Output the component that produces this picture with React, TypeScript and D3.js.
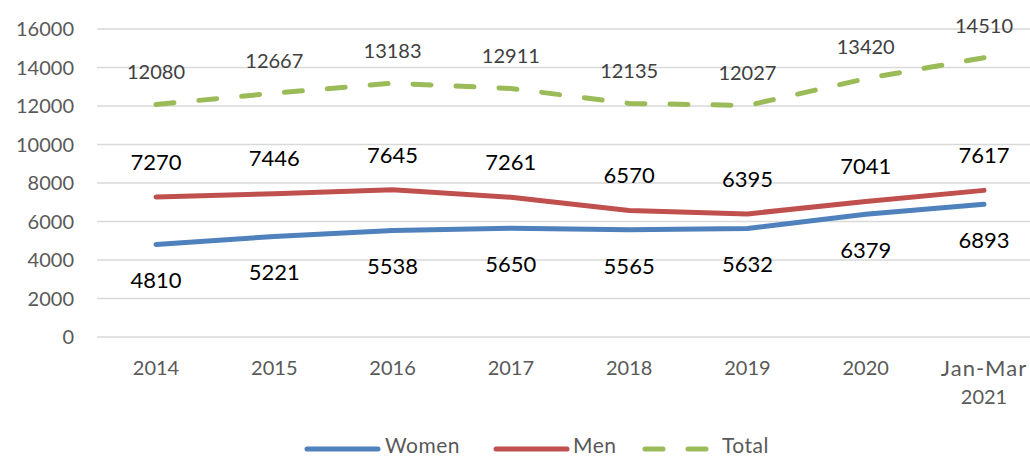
import React from "react";
import * as d3 from "d3";

const categories = ["2014", "2015", "2016", "2017", "2018", "2019", "2020", "Jan-Mar\n2021"];
const women = [4810, 5221, 5538, 5650, 5565, 5632, 6379, 6893];
const men = [7270, 7446, 7645, 7261, 6570, 6395, 7041, 7617];
const total = [12080, 12667, 13183, 12911, 12135, 12027, 13420, 14510];
const yTicks = [0, 2000, 4000, 6000, 8000, 10000, 12000, 14000, 16000];

const W = 1030, H = 459;
const FONT = "Lato, 'Open Sans', sans-serif";

export default function App() {
  const x = d3.scalePoint<string>().domain(categories).range([156, 984]);
  const y = d3.scaleLinear().domain([0, 16000]).range([337, 29]);
  const line = d3.line<number>().x((_, i) => x(categories[i])!).y(d => y(d));
  const series = [
    { name: "Women", data: women, color: "#4F81BD", dash: undefined as string | undefined, labelDy: 36, labelColor: "#000", fs: 22 },
    { name: "Men", data: men, color: "#C0504D", dash: undefined, labelDy: -35, labelColor: "#000", fs: 22 },
    { name: "Total", data: total, color: "#9BBB59", dash: "18 25", labelDy: -32, labelColor: "#404040", fs: 20 },
  ];
  const legend = [
    { name: "Women", color: "#4F81BD", x1: 307, x2: 378, tx: 385, dash: undefined as string | undefined },
    { name: "Men", color: "#C0504D", x1: 496, x2: 567, tx: 573, dash: undefined },
    { name: "Total", color: "#9BBB59", x1: 645, x2: 712, tx: 722, dash: "18 25" },
  ];
  return (
    <svg width={W} height={H} style={{ position: "absolute", left: 0, top: 0, background: "#fff" }} fontFamily={FONT}>
      {yTicks.map(t => (
        <g key={t}>
          <line x1={97} x2={1043} y1={y(t)} y2={y(t)} stroke="#d9d9d9" strokeWidth={1.5} />
          <text x={74} y={y(t)} dy="0.35em" textAnchor="end" fontSize={20} fill="#595959">{t}</text>
        </g>
      ))}
      {categories.map(c => {
        const lines = c.split("\n");
        return (
          <text key={c} x={x(c)} y={368} textAnchor="middle" fontSize={20} fill="#595959">
            {lines.map((l, i) => (
              <tspan key={i} x={x(c)} dy={i === 0 ? "0.35em" : "1.4em"}
                fontSize={/[A-Za-z]/.test(l) ? 22 : 20} letterSpacing={/[A-Za-z]/.test(l) ? 1 : 0}>{l}</tspan>
            ))}
          </text>
        );
      })}
      {series.map(s => (
        <path key={s.name} d={line(s.data)!} fill="none" stroke={s.color} strokeWidth={5}
          strokeLinecap="round" strokeLinejoin="round" strokeDasharray={s.dash} />
      ))}
      {series.map(s => s.data.map((v, i) => (
        <text key={s.name + i} x={x(categories[i])} y={y(v) + s.labelDy} dy="0.35em" textAnchor="middle"
          fontSize={s.fs} fill={s.labelColor}>{v}</text>
      )))}
      {legend.map(l => (
        <g key={l.name}>
          <line x1={l.x1} x2={l.x2} y1={449} y2={449} stroke={l.color} strokeWidth={5} strokeLinecap="round" strokeDasharray={l.dash} />
          <text x={l.tx} y={446} dy="0.35em" fontSize={21} letterSpacing={0.5} fill="#595959">{l.name}</text>
        </g>
      ))}
    </svg>
  );
}
